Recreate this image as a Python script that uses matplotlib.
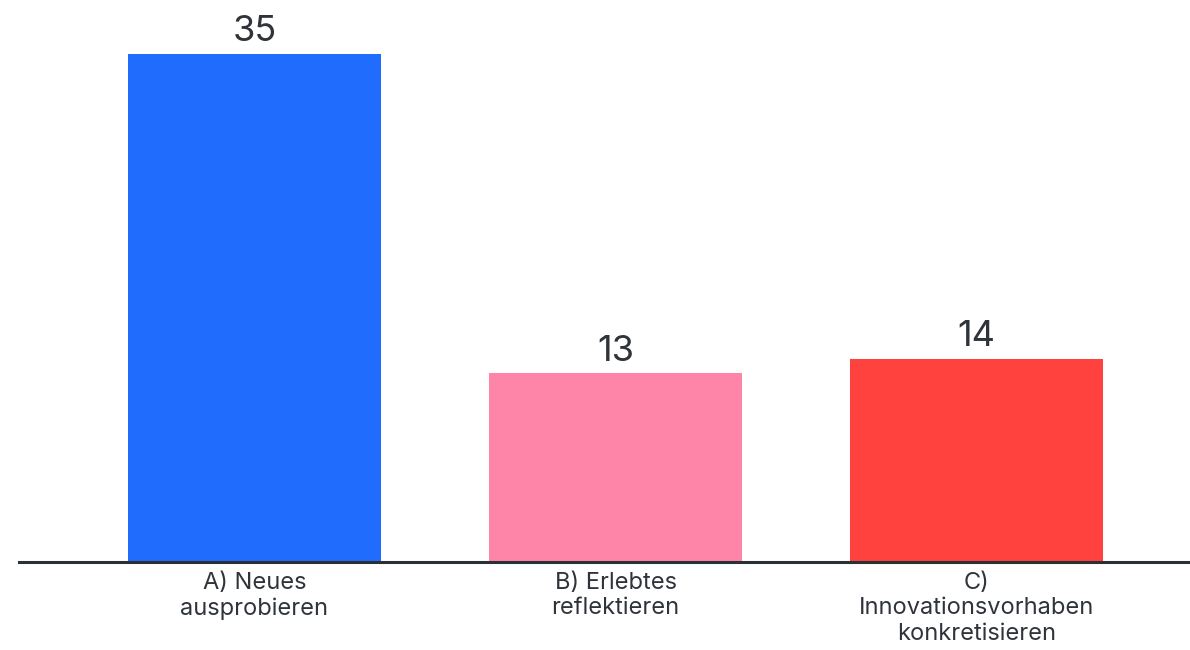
import matplotlib.pyplot as plt

# Chart data
categories = ['A) Neues\nausprobieren', 'B) Erlebtes\nreflektieren', 'C)\nInnovationsvorhaben\nkonkretisieren']
values = [35, 13, 14]
colors = ['#1f6cfd', '#ff85a8', '#ff423d']

plt.rcParams['font.family'] = ['Inter', 'DejaVu Sans']
text_color = '#2f343b'

fig = plt.figure(figsize=(11.9, 6.5), dpi=100)
ax = fig.add_axes([19 / 1190, 88 / 650, 1171 / 1190, 562 / 650])

x = range(len(categories))
ax.bar(x, values, width=0.7, color=colors)

# value labels above the bars
for xi, v in zip(x, values):
    ax.annotate(str(v), (xi, v), xytext=(0, 9), textcoords='offset points',
                ha='center', va='baseline', fontsize=26, color=text_color)

ax.set_xlim(-0.652, 2.591)
ax.set_ylim(0, 38.7)

ax.set_xticks(list(x))
ax.set_xticklabels(categories, fontsize=17, color=text_color, linespacing=1.2)
ax.tick_params(axis='x', length=0, pad=7)
ax.set_yticks([])

for side in ['top', 'right', 'left']:
    ax.spines[side].set_visible(False)
ax.spines['bottom'].set_color('#2b3036')
ax.spines['bottom'].set_linewidth(2.2)

fig.savefig('out.png', dpi=100)
